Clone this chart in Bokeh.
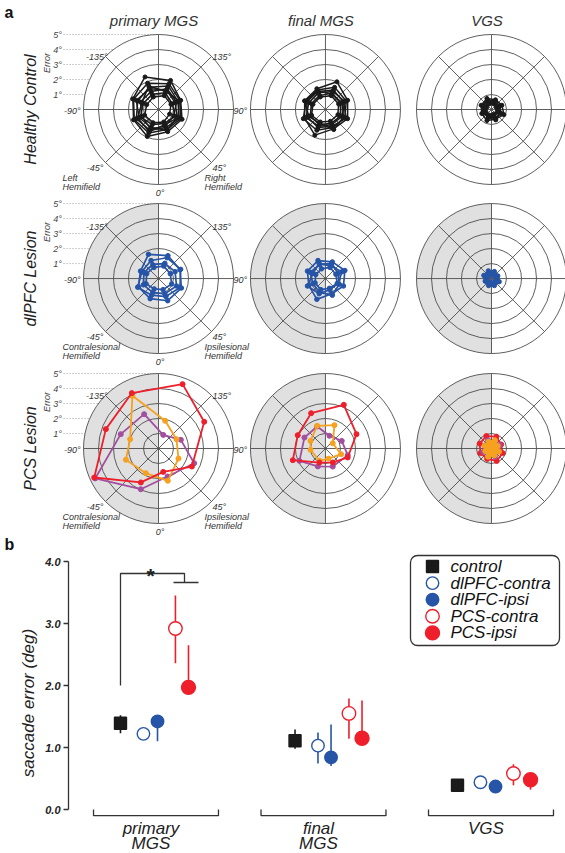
import numpy as np
from bokeh.plotting import figure
from bokeh.models import Range1d, FixedTicker, PrintfTickFormatter
from bokeh.layouts import column
from bokeh.embed import file_html
from bokeh.resources import INLINE
from bokeh.core.properties import value

FONT = "Liberation Sans"

# ======================= panel a : data =======================
COL_TITLES = ["primary MGS", "final MGS", "VGS"]
ROW_TITLES = ["Healthy Control", "dlPFC Lesion", "PCS Lesion"]
RING_VALUES = [1, 2, 3, 4, 5]
RING_LABELS = ["1°", "2°", "3°", "4°", "5°"]
SPOKE_DIRS = [0, 45, 90, 135]
TARGET_DIRS = [-157.5, 157.5, 112.5, 67.5, 22.5, -22.5, -67.5, -112.5]

# healthy controls: error (deg) at each target direction, one list per subject
CTRL_PRIMARY = [
    [2.35, 2.10, 1.60, 1.70, 1.60, 1.95, 1.80, 1.85],
    [1.90, 1.85, 1.55, 1.60, 1.45, 1.70, 1.75, 1.80],
    [1.60, 1.70, 1.40, 1.50, 1.30, 1.50, 1.60, 1.50],
    [1.50, 1.40, 1.20, 1.35, 1.50, 1.30, 1.40, 1.60],
    [1.30, 1.50, 1.30, 1.10, 1.20, 1.40, 1.20, 1.30],
    [1.10, 1.20, 1.00, 1.20, 1.00, 1.10, 1.30, 1.10],
    [1.70, 1.30, 1.50, 1.40, 1.10, 1.60, 1.50, 1.20],
    [0.90, 1.00, 0.90, 0.80, 0.90, 0.95, 1.00, 0.85],
]
CTRL_FINAL = [
    [1.50, 2.00, 1.60, 1.60, 1.40, 1.85, 1.50, 1.50],
    [1.40, 1.60, 1.50, 1.40, 1.30, 1.50, 1.60, 1.40],
    [1.30, 1.40, 1.30, 1.50, 1.20, 1.30, 1.30, 1.35],
    [1.20, 1.30, 1.40, 1.20, 1.10, 1.20, 1.40, 1.20],
    [1.00, 1.20, 1.10, 1.10, 1.00, 1.10, 1.10, 1.00],
    [0.90, 1.00, 0.95, 0.90, 0.85, 0.90, 1.00, 0.90],
    [1.35, 1.10, 1.20, 1.30, 1.45, 1.00, 1.20, 1.50],
]
CTRL_VGS = [
    [0.80, 0.70, 0.75, 0.90, 0.70, 0.80, 0.70, 0.75],
    [0.60, 0.65, 0.60, 0.70, 0.60, 0.55, 0.65, 0.60],
    [0.50, 0.45, 0.55, 0.50, 0.45, 0.50, 0.55, 0.50],
    [0.70, 0.55, 0.45, 0.60, 0.75, 0.60, 0.50, 0.65],
    [0.40, 0.40, 0.35, 0.40, 0.35, 0.40, 0.40, 0.35],
]
# dlPFC lesion patients
DLPFC_PRIMARY = [
    [1.75, 1.65, 1.55, 1.65, 1.60, 1.45, 1.45, 1.30],
    [1.30, 1.50, 1.60, 1.55, 1.30, 1.20, 1.50, 1.20],
    [1.00, 1.10, 1.20, 1.30, 1.10, 1.00, 1.10, 1.05],
    [0.80, 0.90, 0.85, 0.95, 0.80, 0.75, 0.90, 0.85],
]
DLPFC_FINAL = [
    [1.30, 1.20, 1.40, 1.30, 1.10, 1.50, 1.20, 1.30],
    [1.00, 1.10, 0.90, 1.00, 1.20, 1.00, 0.90, 1.10],
    [0.70, 0.80, 0.75, 0.85, 0.70, 0.80, 0.75, 0.70],
    [1.10, 0.90, 1.20, 0.90, 0.80, 1.10, 1.30, 0.90],
]
DLPFC_VGS = [
    [0.55, 0.50, 0.45, 0.55, 0.50, 0.50, 0.45, 0.55],
    [0.40, 0.35, 0.40, 0.45, 0.35, 0.40, 0.40, 0.35],
    [0.30, 0.30, 0.25, 0.30, 0.30, 0.28, 0.30, 0.25],
]
# PCS lesion patients (purple, orange, red): plotted direction and error
PCS_PURPLE_PRIMARY_ANG = [-157.3, 161.0, 111.2, 67.6, 17.8, -23.5, -64.7, -110.8]
PCS_PURPLE_PRIMARY_R = [2.48, 0.96, 1.60, 2.57, 1.96, 2.96, 4.67, 2.69]
PCS_ORANGE_PRIMARY_ANG = [-153.7, 166.5, 117.4, 63.4, 16.1, -27.2, -70.9, -108.2]
PCS_ORANGE_PRIMARY_R = [3.92, 1.90, 1.35, 1.49, 2.24, 1.85, 2.30, 1.99]
PCS_RED_PRIMARY_ANG = [-154.3, 159.5, 120.3, 61.6, 11.3, -27.5, -65.7, -110.2]
PCS_RED_PRIMARY_R = [4.10, 4.58, 3.53, 2.53, 1.59, 2.55, 4.70, 3.74]

PCS_PURPLE_FINAL_ANG = [-159.3, 162.5, 115.0, 73.4, 22.0, -23.0, -64.6, -117.6]
PCS_PURPLE_FINAL_R = [1.57, 0.89, 1.20, 1.55, 1.30, 1.30, 1.92, 1.58]
PCS_ORANGE_FINAL_ANG = [-159.8, 158.9, 126.0, 70.0, 16.7, -26.0, -85.0, -117.0]
PCS_ORANGE_FINAL_R = [1.61, 1.67, 0.60, 1.11, 0.70, 0.91, 1.00, 1.12]
PCS_RED_FINAL_ANG = [-157.9, 157.2, 114.8, 68.0, 27.6, -23.2, -70.3, -115.7]
PCS_RED_FINAL_R = [2.54, 3.16, 2.28, 1.60, 1.05, 1.02, 2.31, 2.05]

PCS_PURPLE_VGS_R = [0.60, 0.55, 0.60, 0.50, 0.60, 0.55, 0.60, 0.50]
PCS_ORANGE_VGS_R = [0.50, 0.60, 0.45, 0.55, 0.50, 0.60, 0.45, 0.50]
PCS_RED_VGS_R = [0.90, 0.85, 0.70, 0.80, 0.90, 0.75, 0.80, 0.85]

# ======================= panel b : data =======================
GROUP_LABELS = ["primary\nMGS", "final\nMGS", "VGS"]
GROUP_POS = [0, 1, 2]
COND_LABELS = ["control", "dlPFC-contra", "dlPFC-ipsi", "PCS-contra", "PCS-ipsi"]

CONTROL_MEAN = [1.39, 1.11, 0.39]
CONTROL_LO = [1.23, 0.98, 0.36]
CONTROL_HI = [1.52, 1.29, 0.42]
DLPFC_CONTRA_MEAN = [1.22, 1.03, 0.44]
DLPFC_CONTRA_LO = [1.18, 0.74, 0.41]
DLPFC_CONTRA_HI = [1.26, 1.24, 0.47]
DLPFC_IPSI_MEAN = [1.42, 0.84, 0.37]
DLPFC_IPSI_LO = [1.10, 0.70, 0.34]
DLPFC_IPSI_HI = [1.46, 1.37, 0.40]
PCS_CONTRA_MEAN = [2.92, 1.55, 0.58]
PCS_CONTRA_LO = [2.36, 1.14, 0.39]
PCS_CONTRA_HI = [3.45, 1.79, 0.73]
PCS_IPSI_MEAN = [1.97, 1.15, 0.48]
PCS_IPSI_LO = [1.93, 1.10, 0.32]
PCS_IPSI_HI = [2.65, 1.76, 0.55]

Y_TICKS = [0, 1, 2, 3, 4]

# ======================= colours =======================
BLACK = "#1a1a1a"
BLUE = "#2654a6"
RED = "#ee1f2b"
ORANGE = "#f6a11f"
PURPLE = "#a24f9f"
GRID = "#4d4d4d"
SHADE = "#e0e0e0"
TXT = "#333333"

W = 565

# ======================= panel a figure =======================
PX = 15.0                      # pixels per degree of error
A_H = 553
fa = figure(width=W, height=A_H,
            x_range=Range1d(-158 / PX, (W - 158) / PX), y_range=Range1d((109 - A_H) / PX, 109 / PX),
            output_backend="svg", toolbar_location=None,
            x_axis_location=None, y_axis_location=None,
            min_border=0, outline_line_color=None)
fa.grid.visible = False

CX = [0.0, 11.13, 22.2]
CY = [0.0, -11.27, -22.6]


def polar(cx, cy, ang, rad):
    a = np.radians(np.asarray(ang, float))
    r = np.asarray(rad, float)
    x = cx + r * np.sin(a)
    y = cy - r * np.cos(a)
    return list(x) + [x[0]], list(y) + [y[0]]


def draw_polys(cx, cy, polys, color, lw=1.6, ms=4.5, fill=None):
    for ang, rad in polys:
        xs, ys = polar(cx, cy, ang, rad)
        if fill is not None:
            fa.patch(xs, ys, fill_color=fill, line_color=None)
        fa.line(xs, ys, line_color=color, line_width=lw)
        fa.scatter(xs[:-1], ys[:-1], size=ms, color=color)


def txt(x, y, s, size="9px", align="left", baseline="middle", style="italic", color=TXT, angle=0.0):
    fa.text(x=[x], y=[y], text=[s], text_font=value(FONT), text_font_size=size,
            text_font_style=style, text_align=align, text_baseline=baseline,
            text_color=color, angle=angle)


data_cells = {
    (0, 0): [(CTRL_PRIMARY, BLACK)], (0, 1): [(CTRL_FINAL, BLACK)], (0, 2): [(CTRL_VGS, BLACK)],
    (1, 0): [(DLPFC_PRIMARY, BLUE)], (1, 1): [(DLPFC_FINAL, BLUE)], (1, 2): [(DLPFC_VGS, BLUE)],
}

for ri in range(3):
    for ci in range(3):
        cx, cy = CX[ci], CY[ri]
        if ci == 0:
            for rv, lab in zip(RING_VALUES, RING_LABELS):
                fa.line([cx - 6.33, cx], [cy + rv, cy + rv], line_color="#888888",
                        line_width=0.8, line_dash="1 2")
                txt(cx - 6.45, cy + rv, lab, size="9px", align="right", color="#444444")
            txt(cx - 7.45, cy + 3.1, "Error", size="9px", align="center", angle=np.pi / 2, color="#444444")
        fa.circle(x=[cx], y=[cy], radius=5, fill_color="white", line_color=None)
        if ri >= 1:
            fa.wedge(x=[cx], y=[cy], radius=5, start_angle=np.pi / 2, end_angle=3 * np.pi / 2,
                     fill_color=SHADE, line_color=None)
        fa.circle(x=[cx] * 5, y=[cy] * 5, radius=RING_VALUES, fill_color=None,
                  line_color=GRID, line_width=0.9)
        sx0, sy0, sx1, sy1 = [], [], [], []
        for d in SPOKE_DIRS:
            a = np.radians(d)
            sx0.append(cx - 5 * np.sin(a)); sy0.append(cy + 5 * np.cos(a))
            sx1.append(cx + 5 * np.sin(a)); sy1.append(cy - 5 * np.cos(a))
        fa.segment(x0=sx0, y0=sy0, x1=sx1, y1=sy1, line_color=GRID, line_width=0.9)

        if (ri, ci) in data_cells:
            for polys, col in data_cells[(ri, ci)]:
                draw_polys(cx, cy, [(TARGET_DIRS, r) for r in polys], col,
                           lw=1.5 if ri == 0 else 1.7, ms=4 if ri == 0 else 4.5)

        if ci == 0:
            txt(cx - 3.4, cy + 3.47, "-135°", align="right")
            txt(cx + 3.6, cy + 3.47, "135°", align="left")
            txt(cx - 5.2, cy - 0.07, "-90°", align="right")
            txt(cx + 5.0, cy - 0.07, "90°", align="left")
            txt(cx - 3.67, cy - 3.87, "-45°", align="right")
            txt(cx + 3.6, cy - 3.87, "45°", align="left")
            txt(cx + 0.1, cy - 5.55, "0°", align="center")
            lft = "Left\nHemifield" if ri == 0 else "Contralesional\nHemifield"
            rgt = "Right\nHemifield" if ri == 0 else "Ipsilesional\nHemifield"
            for s, x0 in ((lft, cx - 6.4), (rgt, cx + 3.07)):
                fa.text(x=[x0], y=[cy - 4.25], text=[s], text_font=value(FONT), text_font_size="9px",
                        text_font_style="italic", text_align="left", text_baseline="top",
                        text_color=TXT, text_line_height=0.9)

pcs_cells = [
    (0, [(PCS_PURPLE_PRIMARY_ANG, PCS_PURPLE_PRIMARY_R, PURPLE, None),
         (PCS_ORANGE_PRIMARY_ANG, PCS_ORANGE_PRIMARY_R, ORANGE, None),
         (PCS_RED_PRIMARY_ANG, PCS_RED_PRIMARY_R, RED, None)]),
    (1, [(PCS_PURPLE_FINAL_ANG, PCS_PURPLE_FINAL_R, PURPLE, None),
         (PCS_ORANGE_FINAL_ANG, PCS_ORANGE_FINAL_R, ORANGE, None),
         (PCS_RED_FINAL_ANG, PCS_RED_FINAL_R, RED, None)]),
    (2, [(TARGET_DIRS, PCS_RED_VGS_R, RED, None),
         (TARGET_DIRS, PCS_PURPLE_VGS_R, PURPLE, None),
         (TARGET_DIRS, PCS_ORANGE_VGS_R, ORANGE, ORANGE)]),
]
for ci, items in pcs_cells:
    for ang, rad, col, fill in items:
        draw_polys(CX[ci], CY[2], [(ang, rad)], col, lw=1.8, ms=5, fill=fill)

for ci, t in enumerate(COL_TITLES):
    txt(CX[ci] - 0.3, 5.93, t, size="15px", align="center")
for ri, t in enumerate(ROW_TITLES):
    txt(-8.55, CY[ri], t, size="16px", align="center", angle=np.pi / 2, color="#222222")
txt(-10.27, (109 - 3) / PX, "a", size="16px", align="left", baseline="top", style="bold", color="#111111")
txt(-10.27, (109 - 552) / PX, "b", size="16px", align="left", baseline="bottom", style="bold", color="#111111")

# ======================= panel b figure =======================
B_TOP, B_H = A_H, 299
GPX = 167.5      # pixels per group unit
YPX = 62.0       # pixels per degree
LEFT = 68


def bx(px):
    return (px - 155.5) / GPX


def by(py):
    return (809 - py) / YPX


fb = figure(width=W, height=B_H,
            x_range=Range1d(bx(LEFT), bx(W)),
            y_range=Range1d(by(B_TOP + B_H), by(B_TOP)),
            output_backend="svg", toolbar_location=None,
            x_axis_location=None, y_axis_location="left",
            min_border_left=LEFT, min_border_right=0, min_border_top=0, min_border_bottom=0,
            outline_line_color=None)
fb.grid.visible = False
for f in (fa, fb):
    try:
        f.frame_align = False
    except Exception:
        pass

ax = fb.yaxis[0]
ax.bounds = (0, 4)
ax.ticker = FixedTicker(ticks=Y_TICKS)
ax.formatter = PrintfTickFormatter(format="%.1f")
ax.minor_tick_line_color = None
ax.major_tick_in = 0
ax.major_tick_out = 5
ax.axis_line_color = "#333333"
ax.axis_line_width = 1.3
ax.major_tick_line_color = "#333333"
ax.major_tick_line_width = 1.3
ax.major_label_text_font = FONT
ax.major_label_text_font_style = "bold italic"
ax.major_label_text_font_size = "11px"
ax.major_label_text_color = "#222222"
ax.major_label_standoff = 3
ax.axis_label = "saccade error (deg)"
ax.axis_label_text_font = FONT
ax.axis_label_text_font_style = "italic"
ax.axis_label_text_font_size = "17px"
ax.axis_label_text_color = "#222222"
ax.axis_label_standoff = 4

OFFSETS = {
    "control": [-0.212, -0.170, -0.200],
    "dlPFC-contra": [-0.075, -0.033, -0.063],
    "dlPFC-ipsi": [0.009, 0.045, 0.027],
    "PCS-contra": [0.116, 0.152, 0.134],
    "PCS-ipsi": [0.194, 0.230, 0.236],
}
series = [
    ("control", CONTROL_MEAN, CONTROL_LO, CONTROL_HI, BLACK, "square", BLACK, 12),
    ("dlPFC-contra", DLPFC_CONTRA_MEAN, DLPFC_CONTRA_LO, DLPFC_CONTRA_HI, BLUE, "circle", "white", 12.5),
    ("dlPFC-ipsi", DLPFC_IPSI_MEAN, DLPFC_IPSI_LO, DLPFC_IPSI_HI, BLUE, "circle", BLUE, 12.5),
    ("PCS-contra", PCS_CONTRA_MEAN, PCS_CONTRA_LO, PCS_CONTRA_HI, RED, "circle", "white", 13.5),
    ("PCS-ipsi", PCS_IPSI_MEAN, PCS_IPSI_LO, PCS_IPSI_HI, RED, "circle", RED, 14),
]
for name, m, lo, hi, col, mk, fill, sz in series:
    xs = [g + o for g, o in zip(GROUP_POS, OFFSETS[name])]
    fb.segment(x0=xs, y0=lo, x1=xs, y1=hi, line_color=col, line_width=1.6)
    fb.scatter(xs, m, marker=mk, size=sz, fill_color=fill, line_color=col, line_width=1.4)

HALF = 0.373
for g, lab in zip(GROUP_POS, GROUP_LABELS):
    fb.line([g - HALF, g - HALF, g + HALF, g + HALF], [0.0, -0.1, -0.1, 0.0],
            line_color="#333333", line_width=1.3)
    fb.text(x=[g - 0.03], y=[by(818)], text=[lab], text_font=value(FONT), text_font_size="17px",
            text_font_style="italic", text_align="center", text_baseline="top",
            text_color="#222222", text_line_height=0.82)

x_ctrl = GROUP_POS[0] + OFFSETS["control"][0]
fb.line([x_ctrl, x_ctrl, bx(184), bx(184)], [CONTROL_MEAN[0] + 0.61, by(573), by(573), by(582)],
        line_color="#333333", line_width=1.3)
fb.line([bx(173), bx(198)], [by(582), by(582)], line_color="#333333", line_width=1.3)
fb.text(x=[bx(150)], y=[by(575)], text=["*"], text_font=value(FONT), text_font_size="21px",
        text_font_style="bold", text_align="center", text_baseline="alphabetic", text_color="#222222")

# legend box (drawn with glyphs so the keys keep the plot's marker sizes)
try:
    fb.quad(left=[bx(410)], right=[bx(559)], top=[by(555)], bottom=[by(645)],
            fill_color="white", line_color="#333333", line_width=1.3, border_radius=7)
except Exception:
    fb.quad(left=[bx(410)], right=[bx(559)], top=[by(555)], bottom=[by(645)],
            fill_color="white", line_color="#333333", line_width=1.3)
for i, (name, m, lo, hi, col, mk, fill, sz) in enumerate(series):
    yy = by(566 + 16.6 * i)
    fb.scatter([bx(432)], [yy], marker=mk, size=sz, fill_color=fill, line_color=col, line_width=1.4)
    fb.text(x=[bx(450)], y=[yy], text=[name], text_font=value(FONT), text_font_size="17px",
            text_font_style="italic", text_align="left", text_baseline="middle", text_color="#111111")

page = column(fa, fb)
open("out.html", "w").write(file_html(page, INLINE))
